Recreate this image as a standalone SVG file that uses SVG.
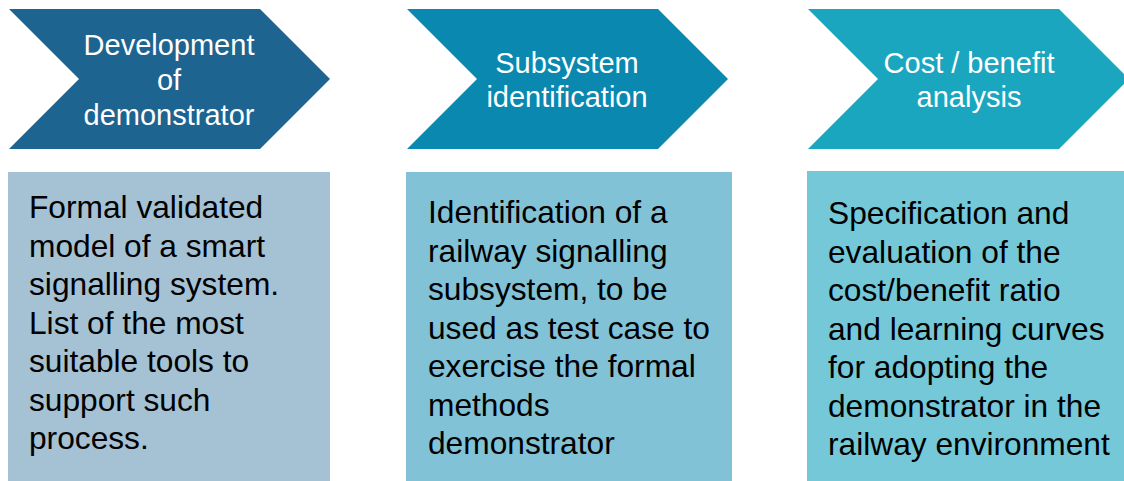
<svg xmlns="http://www.w3.org/2000/svg" width="1124" height="481" viewBox="0 0 1124 481">
  <style>
    .title { font-family: "Liberation Sans", Arial, sans-serif; font-size: 29px; fill: #ffffff; text-anchor: middle; }
    .body { font-family: "Liberation Sans", Arial, sans-serif; font-size: 31.7px; fill: #000000; }
  </style>
  <rect width="1124" height="481" fill="#ffffff"/>

  <!-- Step 1 -->
  <g id="step-development">
    <polygon points="9,9 260,9 330,79 260,149 9,149 79,79" fill="#1D6490"/>
    <text class="title" x="169" y="55">Development</text>
    <text class="title" x="169" y="90">of</text>
    <text class="title" x="169" y="125">demonstrator</text>
  </g>
  <g id="detail-development">
    <rect x="8" y="172" width="322" height="309" fill="#A5C1D4"/>
    <text class="body" x="29" y="218">Formal validated</text>
    <text class="body" x="29" y="256.5">model of a smart</text>
    <text class="body" x="29" y="295">signalling system.</text>
    <text class="body" x="29" y="333.5">List of the most</text>
    <text class="body" x="29" y="372">suitable tools to</text>
    <text class="body" x="29" y="410.5">support such</text>
    <text class="body" x="29" y="449">process.</text>
  </g>

  <!-- Step 2 -->
  <g id="step-subsystem">
    <polygon points="407,9 658,9 728,79 658,149 407,149 477,79" fill="#0A88B0"/>
    <text class="title" x="567" y="73">Subsystem</text>
    <text class="title" x="567" y="107">identification</text>
  </g>
  <g id="detail-subsystem">
    <rect x="406" y="172" width="326" height="309" fill="#82C2D7"/>
    <text class="body" x="428" y="223">Identification of a</text>
    <text class="body" x="428" y="261.5">railway signalling</text>
    <text class="body" x="428" y="300">subsystem, to be</text>
    <text class="body" x="428" y="338.5">used as test case to</text>
    <text class="body" x="428" y="377">exercise the formal</text>
    <text class="body" x="428" y="415.5">methods</text>
    <text class="body" x="428" y="454">demonstrator</text>
  </g>

  <!-- Step 3 -->
  <g id="step-cost-benefit">
    <polygon points="808,9 1059,9 1129,79 1059,149 808,149 878,79" fill="#1BA6BF"/>
    <text class="title" x="969" y="73">Cost / benefit</text>
    <text class="title" x="969" y="107">analysis</text>
  </g>
  <g id="detail-cost-benefit">
    <rect x="807" y="171" width="317" height="310" fill="#74C8D8"/>
    <text class="body" x="828" y="224">Specification and</text>
    <text class="body" x="828" y="262.5">evaluation of the</text>
    <text class="body" x="828" y="301">cost/benefit ratio</text>
    <text class="body" x="828" y="339.5">and learning curves</text>
    <text class="body" x="828" y="378">for adopting the</text>
    <text class="body" x="828" y="416.5">demonstrator in the</text>
    <text class="body" x="828" y="455">railway environment</text>
  </g>
</svg>
